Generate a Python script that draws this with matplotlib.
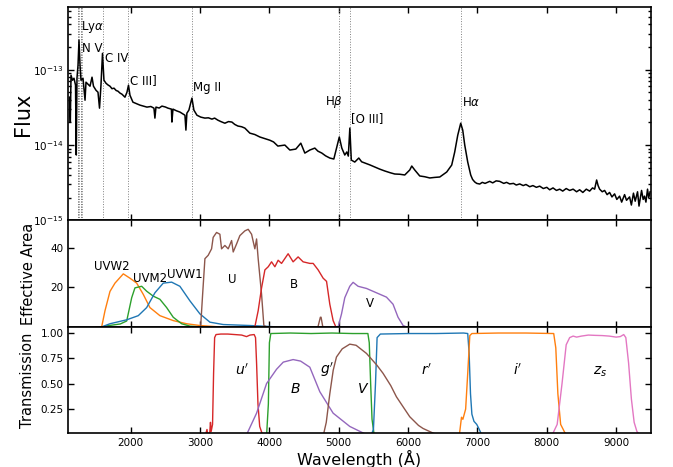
import matplotlib
matplotlib.use('Agg')
import matplotlib.pyplot as plt
import numpy as np

spec_wave = [1117, 1129, 1139, 1160, 1182, 1204, 1215, 1225, 1240, 1254, 1269, 1283,
             1312, 1341, 1355, 1384, 1413, 1442, 1463, 1499, 1528, 1550, 1571, 1593,
             1614, 1643, 1670, 1701, 1730, 1759, 1790, 1816, 1845, 1874, 1917, 1946,
             1968, 1989, 2032, 2080, 2133, 2180, 2234, 2290, 2335, 2349, 2364, 2410,
             2450, 2500, 2537, 2587, 2594, 2609, 2660, 2710, 2782, 2796, 2810, 2839,
             2883, 2911, 2955, 3010, 3070, 3120, 3171, 3210, 3257, 3300, 3358, 3410,
             3459, 3500, 3545, 3600, 3646, 3718, 3790, 3862, 3930, 4006, 4060, 4122,
             4223, 4295, 4381, 4453, 4511, 4583, 4655, 4700, 4756, 4810, 4871, 4929,
             4972, 5008, 5044, 5087, 5116, 5138, 5160, 5181, 5231, 5289, 5330, 5376,
             5450, 5520, 5590, 5664, 5740, 5808, 5880, 5952, 6024, 6053, 6096, 6168,
             6240, 6313, 6380, 6457, 6557, 6629, 6672, 6716, 6759, 6788, 6817, 6860,
             6903, 6930, 6961, 6990, 7033, 7070, 7110, 7177, 7220, 7270, 7321, 7380,
             7420, 7465, 7520, 7560, 7610, 7660, 7700, 7754, 7800, 7850, 7898, 7950,
             8000, 8042, 8090, 8140, 8186, 8230, 8280, 8330, 8380, 8430, 8474, 8520,
             8570, 8618, 8660, 8690, 8719, 8740, 8762, 8800, 8834, 8870, 8906, 8940,
             8978, 9010, 9050, 9080, 9122, 9150, 9194, 9220, 9250, 9275, 9309, 9330,
             9367, 9390, 9410, 9430, 9453, 9470, 9490]
spec_flux = [4.32e-14, 2.02e-14, 8.46e-14, 7.26e-14, 7.71e-14, 6.24e-14, 7.38e-15, 7.7e-14,
             1.15e-13, 2.46e-13, 1.15e-13, 7.26e-14, 7.7e-14, 3.94e-14, 6.83e-14, 6.43e-14,
             6.04e-14, 7.96e-14, 6.04e-14, 5.34e-14, 5.03e-14, 3.09e-14, 6.24e-14, 1.65e-13,
             7.26e-14, 6.62e-14, 6.3e-14, 6.04e-14, 5.6e-14, 5.69e-14, 5.3e-14, 5.19e-14,
             4.9e-14, 4.73e-14, 4.32e-14, 5.03e-14, 6.24e-14, 4.59e-14, 3.71e-14, 3.55e-14,
             3.39e-14, 3.3e-14, 3.19e-14, 3.25e-14, 3.09e-14, 2.28e-14, 3.19e-14, 3.1e-14,
             3.29e-14, 3.2e-14, 3.09e-14, 3.0e-14, 2.02e-14, 3.0e-14, 2.85e-14, 2.74e-14,
             2.49e-14, 1.58e-14, 2.65e-14, 2.91e-14, 4.2e-14, 2.91e-14, 2.49e-14, 2.35e-14,
             2.28e-14, 2.3e-14, 2.21e-14, 2.28e-14, 2.14e-14, 2.05e-14, 1.95e-14, 2.05e-14,
             2.02e-14, 1.88e-14, 1.79e-14, 1.75e-14, 1.68e-14, 1.44e-14, 1.38e-14, 1.28e-14,
             1.22e-14, 1.16e-14, 1.1e-14, 9.7e-15, 1.0e-14, 8.59e-15, 8.85e-15, 1.06e-14,
             7.83e-15, 8.59e-15, 9.12e-15, 8.3e-15, 7.83e-15, 7.2e-15, 6.73e-15, 6.53e-15,
             9.42e-15, 1.28e-14, 9.12e-15, 7.38e-15, 8.1e-15, 7.14e-15, 1.68e-14, 6.33e-15,
             5.95e-15, 6.73e-15, 6.0e-15, 5.78e-15, 5.45e-15, 5.12e-15, 4.8e-15, 4.53e-15,
             4.3e-15, 4.13e-15, 4.1e-15, 4.01e-15, 4.67e-15, 5.27e-15, 4.67e-15, 3.89e-15,
             3.8e-15, 3.66e-15, 3.72e-15, 3.77e-15, 4.39e-15, 5.43e-15, 8.07e-15, 1.35e-14,
             1.95e-14, 1.58e-14, 1.0e-14, 5.95e-15, 4.01e-15, 3.5e-15, 3.24e-15, 3.1e-15,
             3.04e-15, 3.2e-15, 3.1e-15, 3.3e-15, 3.15e-15, 3.35e-15, 3.3e-15, 3.1e-15,
             3.2e-15, 3.05e-15, 3.1e-15, 2.95e-15, 3.05e-15, 2.9e-15, 3.0e-15, 2.8e-15,
             2.9e-15, 2.75e-15, 2.85e-15, 2.65e-15, 2.75e-15, 2.55e-15, 2.7e-15, 2.5e-15,
             2.6e-15, 2.45e-15, 2.65e-15, 2.5e-15, 2.6e-15, 2.4e-15, 2.55e-15, 2.35e-15,
             2.6e-15, 2.45e-15, 2.7e-15, 2.6e-15, 3.44e-15, 2.9e-15, 2.6e-15, 2.4e-15,
             2.5e-15, 2.2e-15, 2.35e-15, 2.05e-15, 2.25e-15, 1.9e-15, 2.1e-15, 1.75e-15,
             2.2e-15, 1.85e-15, 2.05e-15, 1.6e-15, 2.3e-15, 1.8e-15, 2.4e-15, 1.55e-15,
             2.5e-15, 1.9e-15, 2.1e-15, 1.75e-15, 2.6e-15, 2.0e-15, 2.4e-15]

redshift = 0.03
line_rest = [1200.0, 1206.5, 1215.67, 1238.8, 1242.8, 1260.4, 1549.0, 1909.0, 2798.0,
             4861.0, 5007.0, 6563.0]
label_names = [r'Ly$\alpha$', 'N V', 'C IV', 'C III]', 'Mg II', r'H$\beta$', '[O III]', r'H$\alpha$']
label_wave = [1277, 1297, 1629, 1989, 2897, 4930, 5172, 6781]
label_flux = [3.66e-13, 1.93e-13, 1.42e-13, 7.26e-14, 5.86e-14, 3.71e-14, 2.28e-14, 3.71e-14]
label_ha = ['left', 'left', 'left', 'left', 'left', 'center', 'left', 'left']

# Swift UVOT effective areas
uvw2_wave = [1500, 1581, 1629, 1701, 1773, 1893, 1989, 2086, 2181, 2277, 2421, 2613, 2806, 2998, 3286]
uvw2_area = [0, 0, 8.2, 18, 22.2, 26.9, 24.7, 22.2, 16.5, 9.8, 5.7, 3.2, 1.6, 0.7, 0]
uvm2_wave = [1600, 1650, 1850, 1942, 2014, 2061, 2158, 2230, 2325, 2421, 2518, 2613, 2734, 2854, 3000]
uvm2_area = [0, 0.5, 1.5, 3, 14.8, 19.8, 20.6, 18.1, 15.6, 14, 9.8, 4.9, 1.6, 0.4, 0]
uvw1_wave = [1550, 1581, 1701, 1942, 2109, 2230, 2349, 2469, 2590, 2709, 2854, 2998, 3142,
             3334, 3718, 3959, 4100]
uvw1_area = [0, 0, 1.6, 3.6, 5.7, 9.8, 17.3, 22.2, 22.7, 20.6, 13.2, 6.6, 2.4, 1.2, 0.7, 0.3, 0]
u_wave = [2950, 3008, 3037, 3070, 3117, 3166, 3189, 3238, 3286, 3310, 3358, 3406, 3455, 3478,
          3527, 3574, 3646, 3694, 3743, 3790, 3815, 3838, 3887, 3920, 3960, 4700, 4735, 4745, 4770]
u_area = [0, 0, 16.5, 34.6, 36.3, 39.6, 45.4, 47.9, 47.0, 39.6, 41.3, 39.6, 43.8, 38.0,
          42.1, 46.3, 48.7, 49.5, 47.0, 39.6, 44.6, 34.6, 16.5, 0.7, 0, 0, 4.9, 4.9, 0]
b_wave = [3750, 3790, 3838, 3887, 3935, 3983, 4031, 4079, 4126, 4175, 4270, 4342, 4414, 4486,
          4583, 4631, 4703, 4775, 4824, 4871, 4919, 4958, 5000]
b_area = [0, 0, 8.2, 19.8, 28.9, 30.5, 33.0, 30.5, 33.8, 32.2, 37.1, 33.0, 35.5, 33.0,
          32.2, 32.2, 28.9, 24.7, 23.1, 11.5, 3.2, 0, 0]
v_wave = [4950, 4991, 5040, 5087, 5159, 5207, 5279, 5400, 5544, 5688, 5783, 5855, 5928, 5976, 6050]
v_area = [0, 0, 6.6, 14.8, 20.6, 22.6, 20.6, 19.5, 17.3, 15.1, 11.5, 4.9, 0.7, 0, 0]
uvot_labels = ['UVW2', 'UVM2', 'UVW1', 'U', 'B', 'V']
uvot_label_wave = [1730, 2280, 2780, 3460, 4350, 5450]
uvot_label_area = [30.5, 24.5, 26.5, 24, 21.6, 12]

# ground based filter transmissions
up_wave = [3080, 3100, 3110, 3140, 3150, 3160, 3180, 3195, 3210, 3230, 3300, 3400, 3500,
           3600, 3670, 3720, 3780, 3800, 3815, 3835, 3860, 3900]
up_tr = [0, 0.05, 0.0, 0.02, 0.12, 0.03, 0.1, 0.6, 0.95, 0.98, 0.985, 0.985, 0.98,
         0.975, 0.96, 0.975, 0.98, 0.95, 0.7, 0.3, 0.08, 0]
gp_wave = [3960, 3985, 4000, 4020, 4300, 4600, 4900, 5200, 5420, 5440, 5460, 5480, 5510]
gp_tr = [0, 0.3, 0.9, 0.99, 0.995, 0.99, 0.995, 0.99, 0.99, 0.9, 0.5, 0.15, 0]
rp_wave = [5470, 5500, 5530, 5553, 5600, 6000, 6400, 6800, 6860, 6880, 6900, 6920, 6950,
           6990, 7020, 7060]
rp_tr = [0, 0.05, 0.5, 0.95, 0.985, 0.99, 0.99, 0.995, 0.99, 0.8, 0.4, 0.2, 0.13, 0.1, 0.06, 0]
ip_wave = [6740, 6770, 6790, 6830, 6860, 6890, 6920, 7300, 7700, 8100, 8130, 8160, 8200, 8260, 8290]
ip_tr = [0, 0.17, 0.15, 0.25, 0.6, 0.97, 0.99, 0.995, 0.995, 0.99, 0.85, 0.4, 0.1, 0.02, 0]
zs_wave = [8080, 8150, 8220, 8280, 8330, 8380, 8430, 8500, 8600, 8700, 8800, 8900, 9000,
           9060, 9110, 9140, 9180, 9220, 9260, 9300, 9340]
zs_tr = [0, 0.1, 0.5, 0.88, 0.95, 0.965, 0.955, 0.965, 0.975, 0.972, 0.97, 0.965, 0.955,
         0.96, 0.98, 0.95, 0.7, 0.35, 0.12, 0.03, 0]
jb_wave = [3600, 3671, 3815, 3959, 4103, 4200, 4342, 4450, 4583, 4727, 4919, 5159, 5400]
jb_tr = [0, 0, 0.21, 0.5, 0.64, 0.71, 0.735, 0.72, 0.66, 0.42, 0.21, 0.08, 0.0]
jv_wave = [4780, 4820, 4871, 4920, 4967, 5050, 5159, 5250, 5400, 5550, 5639, 5750, 5832,
           5950, 6024, 6150, 6216, 6360, 6420]
jv_tr = [0, 0.12, 0.4, 0.63, 0.76, 0.84, 0.886, 0.875, 0.795, 0.68, 0.6, 0.48, 0.37,
         0.25, 0.175, 0.09, 0.06, 0.015, 0]
filt_labels = [r"$u'$", r'$B$', r"$g'$", r'$V$', r"$r'$", r"$i'$", r'$z_s$']
filt_label_wave = [3606, 4380, 4827, 5348, 6265, 7585, 8762]
filt_label_tr = [0.63, 0.445, 0.63, 0.45, 0.63, 0.63, 0.62]


def style_axis(ax):
    ax.tick_params(which='both', direction='in', top=True, right=True,
                   labelsize=7.5, width=1)
    ax.tick_params(which='major', length=4)
    ax.tick_params(which='minor', length=2)
    for sp in ax.spines.values():
        sp.set_linewidth(1.2)


fig, (ax1, ax2, ax3) = plt.subplots(3, 1, sharex=True, figsize=(6.73, 4.67), dpi=100,
                                    gridspec_kw={'height_ratios': [2, 1, 1], 'hspace': 0})
fig.subplots_adjust(left=0.1015, right=0.967, top=0.984, bottom=0.072)

# spectrum
obs_lines = np.array(line_rest) * (1 + redshift)
for w in obs_lines:
    ax1.axvline(w, color='grey', ls=':', lw=0.7)
ax1.plot(spec_wave, spec_flux, color='k', lw=1.1)
for name, w, f, ha in zip(label_names, label_wave, label_flux, label_ha):
    ax1.text(w, f, name, ha=ha, va='center', fontsize=8.5)
ax1.set_yscale('log')
ax1.set_ylim(1e-15, 6.7e-13)
ax1.set_ylabel('Flux', fontsize=15, labelpad=0)
style_axis(ax1)

# UVOT effective areas
ax2.plot(uvw2_wave, uvw2_area, color='C1', lw=1)
ax2.plot(uvm2_wave, uvm2_area, color='C2', lw=1)
ax2.plot(uvw1_wave, uvw1_area, color='C0', lw=1)
ax2.plot(u_wave, u_area, color='C5', lw=1)
ax2.plot(b_wave, b_area, color='C3', lw=1)
ax2.plot(v_wave, v_area, color='C4', lw=1)
for name, w, a in zip(uvot_labels, uvot_label_wave, uvot_label_area):
    ax2.text(w, a, name, ha='center', va='center', fontsize=8.5)
ax2.set_ylim(0, 54)
ax2.set_yticks([20, 40])
ax2.set_ylabel('Effective Area', fontsize=10.5, labelpad=10)
style_axis(ax2)

# filter transmissions
ax3.plot(up_wave, up_tr, color='C3', lw=1)
ax3.plot(gp_wave, gp_tr, color='C2', lw=1)
ax3.plot(rp_wave, rp_tr, color='C0', lw=1)
ax3.plot(ip_wave, ip_tr, color='C1', lw=1)
ax3.plot(zs_wave, zs_tr, color='C6', lw=1)
ax3.plot(jb_wave, jb_tr, color='C4', lw=1)
ax3.plot(jv_wave, jv_tr, color='C5', lw=1)
for name, w, t in zip(filt_labels, filt_label_wave, filt_label_tr):
    ax3.text(w, t, name, ha='center', va='center', fontsize=10)
ax3.set_ylim(0.012, 1.055)
ax3.set_yticks([0.25, 0.5, 0.75, 1.0])
ax3.set_ylabel('Transmission', fontsize=10.5, labelpad=4)
ax3.set_xlabel(u'Wavelength (\u00c5)', fontsize=11.5, labelpad=1)
ax3.set_xlim(1100, 9500)
ax3.set_xticks([2000, 3000, 4000, 5000, 6000, 7000, 8000, 9000])
style_axis(ax3)

plt.savefig('out.png', dpi=100)
